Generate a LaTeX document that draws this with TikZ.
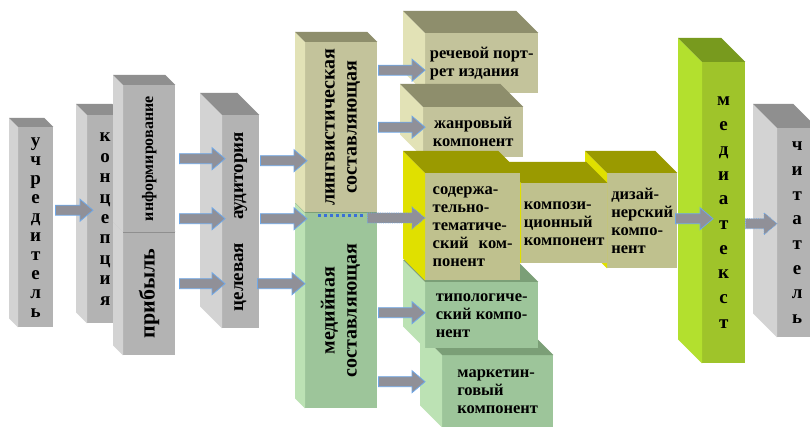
\documentclass[tikz,border=0pt]{standalone}
\usepackage{fontspec}
\setmainfont{Liberation Serif}[BoldFont={Liberation Serif Bold}]
\usetikzlibrary{calc}
\definecolor{grayside}{HTML}{D3D3D3}
\definecolor{grayfront}{HTML}{B3B3B3}
\definecolor{graytop}{HTML}{8F8F8F}
\definecolor{khakiside}{HTML}{E2E2B6}
\definecolor{khakifront}{HTML}{C3C39B}
\definecolor{khakitop}{HTML}{8E8E6C}
\definecolor{greenside}{HTML}{BCE2B4}
\definecolor{greenfront}{HTML}{9DC59A}
\definecolor{greentop}{HTML}{7B9F77}
\definecolor{yellowside}{HTML}{E0E000}
\definecolor{yellowfront}{HTML}{BFC18E}
\definecolor{yellowtop}{HTML}{9A9A00}
\definecolor{limeside}{HTML}{B3E02E}
\definecolor{limefront}{HTML}{9FC42A}
\definecolor{limetop}{HTML}{789A1E}
\definecolor{arrowfill}{HTML}{909098}
\definecolor{arrowline}{HTML}{6FA8E8}
\definecolor{dotblue}{HTML}{3A6FD8}
\tikzset{face/.style={rectangle,inner sep=0pt,anchor=north west,fill=#1front}}
\tikzset{letters/.style={align=center,font=\fontsize{19}{#1}\selectfont\bfseries}}
\tikzset{blocktext/.style={align=left,font=\fontsize{16.5}{18}\selectfont\bfseries}}
\tikzset{turned/.style={font=\fontsize{#1}{22}\selectfont\bfseries}}
\tikzset{barrow/.style={fill=arrowfill,draw=arrowline,line width=0.8pt,
  to path={let \p1=(\tikztostart),\p2=(\tikztotarget) in
    (\x1,\y1+5pt) -- (\x2-13pt,\y1+5pt) -- (\x2-13pt,\y1+11pt) -- (\x2,\y1)
    -- (\x2-13pt,\y1-11pt) -- (\x2-13pt,\y1-5pt) -- (\x1,\y1-5pt) -- cycle}}}
\tikzset{dotline/.style={draw=dotblue,line width=3pt,dash pattern=on 3pt off 3pt}}
% side and top of a block: node, colour family, depth
\newcommand\sides[3]{%
  \fill[#2side] (#1.north west) -- ++(-#3,-#3) -- ([shift={(-#3,-#3)}]#1.south west) -- (#1.south west) -- cycle;
  \fill[#2top] (#1.north west) -- ++(-#3,-#3) -- ([shift={(-#3,-#3)}]#1.north east) -- (#1.north east) -- cycle;}

\begin{document}
\begin{tikzpicture}[x=1pt,y=-1pt]
  \useasboundingbox[fill=white] (0,0) rectangle (810,427);
  % left column
  \node[face=gray,letters=19,minimum width=35pt,minimum height=200pt] (udr) at (18,127) {у\\ч\\р\\е\\д\\и\\т\\е\\л\\ь};
  \sides{udr}{gray}{9}
  \node[face=gray,letters=20.4,minimum width=36pt,minimum height=208pt] (konc) at (87,115) {к\\о\\н\\ц\\е\\п\\ц\\и\\я};
  \sides{konc}{gray}{11}
  \node[face=gray,turned=22,minimum width=52pt,minimum height=123pt] (prib) at (123,232) {\rotatebox{90}{прибыль}};
  \sides{prib}{gray}{10}
  \node[face=gray,turned=16,minimum width=52pt,minimum height=147pt] (info) at (123,85) {\rotatebox{90}{информирование}};
  \sides{info}{gray}{10}
  \draw[graytop,thin] (info.south west) -- (info.south east);
  \node[face=gray,turned=19,minimum width=37pt,minimum height=213pt] (aud) at (222,115) {\rotatebox{90}{целевая\hspace{1.2em}аудитория}};
  \sides{aud}{gray}{22}
  % two components
  \node[face=green,turned=20,minimum width=72pt,minimum height=195pt] (media) at (305,213)
    {\rotatebox{90}{\begin{tabular}{@{}c@{}}медийная\\составляющая\end{tabular}}};
  \sides{media}{green}{10}
  \node[face=khaki,turned=20,minimum width=72pt,minimum height=170pt] (ling) at (305,42)
    {\rotatebox{90}{\begin{tabular}{@{}c@{}}лингвистическая\\составляющая\end{tabular}}};
  \sides{ling}{khaki}{10}
  % right blocks
  \node[face=khaki,blocktext,minimum width=113pt,minimum height=60pt] (rech) at (425,33) {речевой порт-\\рет издания};
  \sides{rech}{khaki}{22}
  \node[face=khaki,blocktext,align=center,minimum width=100pt,minimum height=50pt] (zhan) at (423,107) {жанровый\\компонент};
  \sides{zhan}{khaki}{23}
  \node[face=green,blocktext,minimum width=111pt,minimum height=72pt] (market) at (442,355) {маркетин-\\говый\\компонент};
  \sides{market}{green}{22}
  \node[face=green,blocktext,minimum width=113pt,minimum height=66pt] (typ) at (425,282) {типологиче-\\ский компо-\\нент};
  \sides{typ}{green}{22}
  \node[face=yellow,blocktext,minimum width=70pt,minimum height=95pt] (diz) at (607,173) {дизай-\\нерский\\компо-\\нент};
  \sides{diz}{yellow}{22}
  \node[face=yellow,blocktext,minimum width=86pt,minimum height=80pt] (komp) at (521,183) {компози-\\ционный\\компонент};
  \sides{komp}{yellow}{21}
  \node[face=yellow,blocktext,text width=80pt,minimum width=95pt,minimum height=107pt] (sod) at (425,173) {содержа-\\тельно-\\тематиче-\\ский\hfill ком-\\понент};
  \sides{sod}{yellow}{22}
  \node[face=lime,letters=24.7,minimum width=43pt,minimum height=301pt] (medtext) at (702,62) {м\\е\\д\\и\\а\\т\\е\\к\\с\\т};
  \sides{medtext}{lime}{24}
  \node[face=gray,letters=24.7,minimum width=40pt,minimum height=209pt] (chit) at (777,128) {ч\\и\\т\\а\\т\\е\\л\\ь};
  \sides{chit}{gray}{24}
  % arrows
  \path[barrow] ([xshift=2pt,yshift=17pt]udr.east) to ([xshift=6pt]konc.west);
  \path[barrow] ([xshift=4pt]info.east) to ([xshift=3pt]aud.west);
  \path[barrow] ([xshift=4pt,yshift=-60pt]info.east) to ([xshift=3pt]aud.west);
  \path[barrow] ([xshift=4pt,yshift=10pt]prib.east) to ([xshift=3pt]aud.west);
  \path[barrow] ([xshift=1pt,yshift=61pt]aud.east) to ([xshift=2pt]ling.west);
  \path[barrow] ([xshift=1pt,yshift=3pt]aud.east) to ([xshift=2pt]ling.west);
  \path[barrow] ([xshift=-2pt,yshift=-62pt]aud.east) to (media.west);
  \path[barrow] ([xshift=1pt,yshift=57pt]ling.east) to (rech.west);
  \path[barrow] ([xshift=1pt]ling.east) to ([xshift=2pt]zhan.west);
  \draw[dotline] ([xshift=13pt,yshift=-3pt]media.north west) -- ([xshift=-12pt,yshift=-3pt]media.north east);
  \path[barrow,densely dotted] ([xshift=-10pt,yshift=-5pt]media.north east) to (sod.west);
  \path[barrow] ([xshift=1pt,yshift=-2pt]media.east) to (typ.west);
  \path[barrow] ([xshift=1pt,yshift=-71pt]media.east) to ([xshift=-17pt]market.west);
  \path[barrow] ([xshift=-2pt,yshift=2pt]diz.east) to ([xshift=11pt]medtext.west);
  \path[barrow,densely dotted] ([yshift=-11pt]medtext.east) to (chit.west);
\end{tikzpicture}
\end{document}
